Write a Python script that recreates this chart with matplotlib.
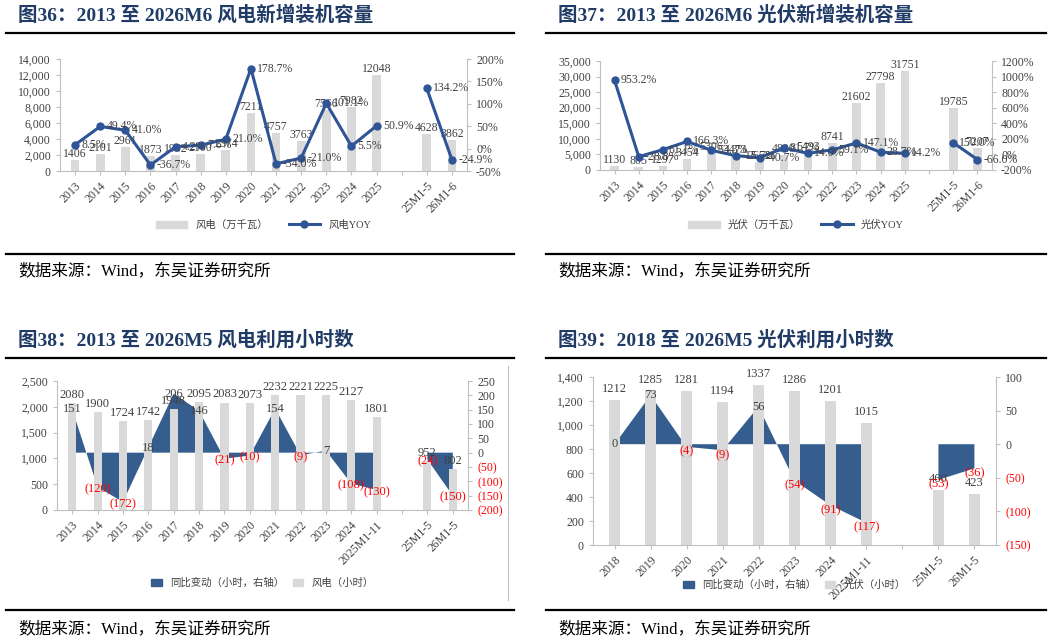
import matplotlib
matplotlib.use("Agg")
import matplotlib.pyplot as plt
import numpy as np
from matplotlib.ticker import FuncFormatter
from matplotlib.patches import Patch
from matplotlib.lines import Line2D

plt.rcParams['font.family'] = ['Liberation Serif', 'Noto Sans CJK SC', 'DejaVu Sans']

# ---------------- data ----------------
wind_cats = ["2013","2014","2015","2016","2017","2018","2019","2020","2021","2022","2023","2024","2025","","25M1-5","26M1-6"]
wind_cap = [1406,2101,2961,1873,1952,2100,2574,7211,4757,3763,7566,7982,12048,np.nan,4628,3862]
wind_yoy = [8.5,49.4,41.0,-36.7,4.2,7.6,21.0,178.7,-34.0,-21.0,101.1,5.5,50.9,np.nan,134.2,-24.9]

pv_cats = wind_cats
pv_cap = [1130,805,1297,3454,5306,4473,2652,4820,5493,8741,21602,27798,31751,np.nan,19785,7207]
pv_yoy = [953.2,-28.8,61.1,166.3,53.3,-15.7,-40.7,81.7,14.0,59.1,147.1,28.7,14.2,np.nan,150.0,-66.0]

wh_cats = ["2013","2014","2015","2016","2017","2018","2019","2020","2021","2022","2023","2024","2025M1-11","","25M1-5","26M1-5"]
wh_hours = [2080,1900,1724,1742,1948,2095,2083,2073,2232,2221,2225,2127,1801,np.nan,952,802]
wh_chg = [151,-120,-172,18,206,146,-21,-10,154,-9,7,-108,-130,np.nan,-24,-150]

ph_cats = ["2018","2019","2020","2021","2022","2023","2024","2025M1-11","","25M1-5","26M1-5"]
ph_hours = [1212,1285,1281,1194,1337,1286,1201,1015,np.nan,460,423]
ph_chg = [0,73,-4,-9,56,-54,-91,-117,np.nan,-53,-36]

W, H = 1052, 644
fig = plt.figure(figsize=(W/100, H/100), dpi=100)
TITLE_C = '#1f3b66'
BAR_C = '#d9d9d9'
LINE_C = '#2f5597'
AREA_C = '#355e8f'
TXT = '#404040'

def ax_px(x0, y0, x1, y1):
    return fig.add_axes([x0/W, 1-y1/H, (x1-x0)/W, (y1-y0)/H])

def hline(x0, x1, y, lw=1.6):
    fig.add_artist(Line2D([x0/W, x1/W], [1-y/H, 1-y/H], color='black', lw=lw))

def text_px(x, y, s, **kw):
    fig.text(x/W, 1-y/H, s, **kw)

for x0, x1, t in [(8, 514, "图36：2013 至 2026M6 风电新增装机容量"), (548, 1046, "图37：2013 至 2026M6 光伏新增装机容量")]:
    text_px(x0+10, 15, t, fontsize=14, fontweight='bold', color=TITLE_C, va='center')
    hline(x0-2, x1, 33)
    hline(x0-2, x1, 254)
    text_px(x0+10, 272, "数据来源：Wind，东吴证券研究所", fontsize=12, color='black', va='center')
for x0, x1, t in [(8, 514, "图38：2013 至 2026M5 风电利用小时数"), (548, 1046, "图39：2018 至 2026M5 光伏利用小时数")]:
    text_px(x0+10, 340, t, fontsize=14, fontweight='bold', color=TITLE_C, va='center')
    hline(x0-2, x1, 358)
    hline(x0-2, x1, 610)
    text_px(x0+10, 630, "数据来源：Wind，东吴证券研究所", fontsize=12, color='black', va='center')

def style(ax, ax2):
    for a in (ax, ax2):
        a.spines['top'].set_visible(False)
        for s in ['left', 'right', 'bottom']:
            a.spines[s].set_color('#bfbfbf')
        a.tick_params(colors=TXT, labelsize=8.5, length=3, color='#bfbfbf')
    ax.spines['right'].set_visible(False)
    ax2.spines['left'].set_visible(False)
    ax2.spines['bottom'].set_visible(False)

def cap_panel(box, cats, cap, yoy, ylim, yticks, y2lim, y2ticks, barname, linename, legy):
    ax = ax_px(*box)
    x = np.arange(len(cats))
    ax.bar(x, cap, width=0.35, color=BAR_C)
    ax.set_xlim(-0.6, len(cats)-0.4)
    ax.set_ylim(*ylim); ax.set_yticks(yticks)
    ax.yaxis.set_major_formatter(FuncFormatter(lambda v, p: f"{int(v):,}"))
    ax.set_xticks(x); ax.set_xticklabels(cats, rotation=45, ha='right', rotation_mode='anchor')
    ax2 = ax.twinx()
    ax2.plot(x, yoy, color=LINE_C, lw=2.2, marker='o', ms=5)
    ax2.set_ylim(*y2lim); ax2.set_yticks(y2ticks)
    ax2.yaxis.set_major_formatter(FuncFormatter(lambda v, p: f"{int(v)}%"))
    style(ax, ax2)
    for i, v in enumerate(cap):
        if not np.isnan(v):
            ax.text(i, v, f"{int(v)}", ha='center', va='bottom', fontsize=8.5, color=TXT)
    for i, v in enumerate(yoy):
        if not np.isnan(v):
            ax2.text(i+0.25, v, f"{v:.1f}%", ha='left', va='center', fontsize=8.5, color=TXT)
    cx = (box[0]+box[2])/2
    handles = [Patch(color=BAR_C, label=barname), Line2D([], [], color=LINE_C, lw=2.2, marker='o', ms=5, label=linename)]
    fig.legend(handles=handles, loc='center', bbox_to_anchor=(cx/W, 1-legy/H), ncol=2, frameon=False,
               fontsize=7.5, labelcolor=TXT, handlelength=3)

cap_panel((60, 59, 467, 171), wind_cats, wind_cap, wind_yoy, (0, 14000), range(0, 14001, 2000),
          (-50, 200), range(-50, 201, 50), "风电（万千瓦）", "风电YOY", 225)
cap_panel((600, 61, 992, 170), pv_cats, pv_cap, pv_yoy, (0, 35000), range(0, 35001, 5000),
          (-200, 1200), range(-200, 1201, 200), "光伏（万千瓦）", "光伏YOY", 225)

def fmt_paren(v, p):
    return f"({int(-v)})" if v < 0 else f"{int(v)}"

def hours_panel(box, cats, hours, chg, ylim, yticks, y2lim, y2ticks, barname, legy):
    ax = ax_px(*box)
    x = np.arange(len(cats))
    ax2 = ax.twinx()
    ax.set_zorder(ax2.get_zorder()+1); ax.patch.set_visible(False)
    ax.bar(x, hours, width=0.32, color=BAR_C, zorder=1)
    ax.set_xlim(-0.6, len(cats)-0.4)
    ax.set_ylim(*ylim); ax.set_yticks(yticks)
    ax.yaxis.set_major_formatter(FuncFormatter(lambda v, p: f"{int(v):,}"))
    ax.set_xticks(x); ax.set_xticklabels(cats, rotation=45, ha='right', rotation_mode='anchor')
    c = np.array(chg, dtype=float)
    ax2.fill_between(x, 0, c, color=AREA_C, lw=0)
    ax2.set_ylim(*y2lim); ax2.set_yticks(y2ticks)
    ax2.yaxis.set_major_formatter(FuncFormatter(fmt_paren))
    style(ax, ax2)
    for lab, t in zip(ax2.get_yticklabels(), y2ticks):
        if t < 0:
            lab.set_color('red')
    for i, v in enumerate(hours):
        if not np.isnan(v):
            ax.text(i, v+40, f"{int(v)}", ha='center', va='bottom', fontsize=9, color=TXT)
    for i, v in enumerate(chg):
        if not np.isnan(v):
            ax.text(i, (v - y2lim[0]) / (y2lim[1]-y2lim[0]) * (ylim[1]-ylim[0]) + ylim[0] - (0 if v >= 0 else 40),
                    fmt_paren(v, None), ha='center', va='center', fontsize=9,
                    color='red' if v < 0 else TXT, zorder=5)
    cx = (box[0]+box[2])/2
    handles = [Patch(color=AREA_C, label="同比变动（小时，右轴）"), Patch(color=BAR_C, label=barname)]
    fig.legend(handles=handles, loc='center', bbox_to_anchor=(cx/W, 1-legy/H), ncol=2, frameon=False,
               fontsize=7.5, labelcolor=TXT, handlelength=1, columnspacing=0.8)

hours_panel((57, 381, 468, 510), wh_cats, wh_hours, wh_chg, (0, 2500), range(0, 2501, 500),
            (-200, 250), range(-200, 251, 50), "风电（小时）", 583)
fig.add_artist(Line2D([508/W, 508/W], [1-366/H, 1-600/H], color='#bfbfbf', lw=0.8))
hours_panel((593, 377, 996, 545), ph_cats, ph_hours, ph_chg, (0, 1400), range(0, 1401, 200),
            (-150, 100), range(-150, 101, 50), "光伏（小时）", 585)

fig.savefig("out.png", dpi=100)
